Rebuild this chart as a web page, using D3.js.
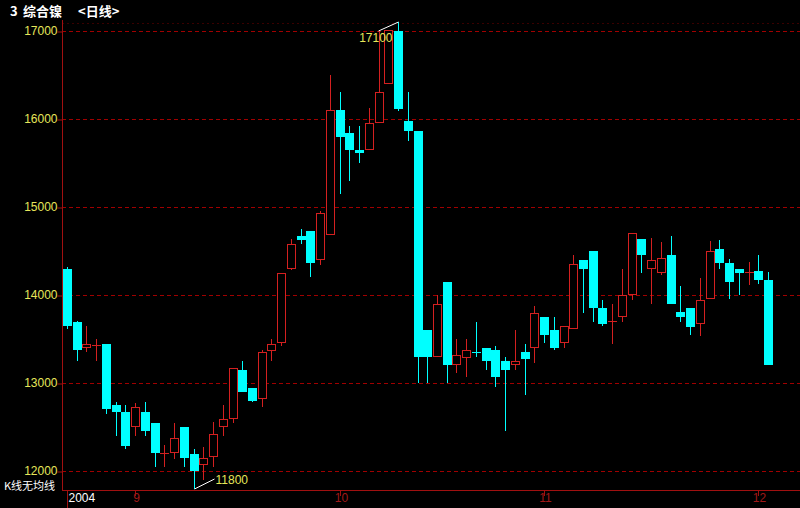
<!DOCTYPE html>
<html><head><meta charset="utf-8">
<script src="https://cdn.jsdelivr.net/npm/d3@7"></script>
<style>html,body{margin:0;padding:0;background:#000;}svg{display:block;}</style>
</head><body>
<svg id="c" width="800" height="508"></svg>
<script>
// OHLC series (daily)
const openV  = [14300,13690,13400,13430,13440,12750,12670,12500,12670,12550,12200,12200,12500,12190,12070,12160,12500,12590,13150,12940,12820,13360,13450,14300,14670,14730,14400,14680,16100,15840,15650,15650,15960,16400,17000,15980,15860,13600,13300,14150,13200,13280,13350,13400,13380,13250,13200,13350,13400,13750,13600,13450,13610,14400,14500,13850,13700,13750,14000,14640,14300,14250,14450,13810,13850,13670,13950,14520,14360,14300,14260,14270,14170];
const highV  = [14320,13700,13650,13500,13440,12780,12750,12770,12780,12550,12300,12550,12500,12250,12270,12560,12750,13170,13250,12940,13380,13500,14250,14640,14750,14730,14950,16500,16310,15920,15920,16130,17010,17010,17100,16310,15860,13600,14000,14150,13500,13500,13690,13400,13420,13290,13600,13440,13880,13750,13750,13650,14460,14400,14500,13940,13900,14300,14700,14640,14650,14600,14670,14100,13850,14190,14610,14620,14410,14300,14380,14460,14260];
const lowV   = [13610,13250,13350,13250,12650,12400,12250,12400,12400,12050,12050,12140,12050,11800,11900,12050,12400,12550,12900,12780,12730,13250,13420,14280,14580,14200,14340,14680,15150,15300,15500,15650,15960,16400,16090,15750,13000,13000,13300,13000,13110,13070,13300,13150,12950,12450,13150,12860,13230,13450,13380,13400,13610,13800,13690,13650,13440,13690,13940,14250,13900,14230,13900,13690,13540,13530,13950,14300,13950,14000,14110,14130,13200];
const closeV = [13650,13380,13440,13431,12700,12670,12280,12730,12450,12200,12201,12370,12150,12000,12150,12420,12590,13170,12900,12800,13350,13440,14250,14580,14630,14360,14930,16100,15800,15650,15610,15960,16310,17010,16110,15860,13300,13300,13900,13200,13320,13380,13349,13250,13070,13150,13250,13270,13800,13550,13400,13650,14350,14300,13850,13670,13701,14000,14700,14460,14400,14420,13900,13750,13640,13940,14500,14360,14150,14250,14261,14170,13200];
const yTicks = [12000,13000,14000,15000,16000,17000];
const monthTickIndex = [0,7,28,49,71];
const monthTickLabels = ["2004","9","10","11","12"];
const titleNum = "3", titleName = "综合镍", titlePeriod = "<日线>";
const noteText = "K线无均线";

const UP = "#d42020", DOWN = "#00ffff", GRID = "#a00000", AXIS = "#a01010", YEL = "#e6e65a";
const svg = d3.select("#c");
const n = openV.length;
const x = d3.scaleLinear().domain([0, n-1]).range([67, 768]);
const y = d3.scaleLinear().domain([12000, 17000]).range([471, 31]);
const left = 62, bottom = 490;

svg.append("rect").attr("width",800).attr("height",508).attr("fill","#000");

svg.append("line").attr("x1",left).attr("x2",800).attr("y1",23.5).attr("y2",23.5)
  .attr("stroke","#3a0000").attr("stroke-dasharray","2,3");

svg.append("g").selectAll("line").data(yTicks).join("line")
  .attr("x1",left).attr("x2",800)
  .attr("y1",d=>Math.round(y(d))+0.5).attr("y2",d=>Math.round(y(d))+0.5)
  .attr("stroke",GRID).attr("stroke-dasharray","4,3");

const ya = svg.append("g").attr("transform",`translate(${left+0.5},0)`)
  .call(d3.axisLeft(y).tickValues(yTicks).tickSize(5).tickSizeOuter(0).tickFormat(d3.format("d")));
ya.select(".domain").remove();
ya.selectAll(".tick line").attr("stroke",AXIS).attr("transform","translate(0,0.5)");
ya.selectAll(".tick text").attr("fill",YEL).attr("font-family","'Liberation Sans',Arial,sans-serif")
  .attr("font-size",12).attr("x",-5).attr("dy","0.32em");
svg.append("line").attr("x1",left+0.5).attr("x2",left+0.5).attr("y1",20).attr("y2",bottom)
  .attr("stroke",AXIS);

svg.append("line").attr("x1",left).attr("x2",800).attr("y1",bottom+0.5).attr("y2",bottom+0.5).attr("stroke",AXIS);
const mt = svg.append("g");
monthTickIndex.forEach((idx,k)=>{
  const xx = Math.round(x(idx))+0.5;
  mt.append("line").attr("x1",xx).attr("x2",xx).attr("y1",bottom).attr("y2",k===0?508:496).attr("stroke",AXIS);
  mt.append("text").attr("x",xx+1).attr("y",502)
    .attr("text-anchor",k===0?"start":"middle")
    .attr("fill",k===0?"#ffffff":"#a01818")
    .attr("font-family","'Liberation Sans',Arial,sans-serif").attr("font-size",12)
    .text(monthTickLabels[k]);
});

const g = svg.append("g");
for (let i=0;i<n;i++){
  const o=openV[i], h=highV[i], l=lowV[i], c=closeV[i];
  const up = c>o;
  const col = up?UP:DOWN;
  const xc = Math.round(x(i));
  const yTop = Math.round(y(Math.max(o,c))), yBot = Math.round(y(Math.min(o,c)));
  const yH = Math.round(y(h)), yL = Math.round(y(l));
  if (yH < yTop) g.append("line").attr("x1",xc+0.5).attr("x2",xc+0.5).attr("y1",yH).attr("y2",yTop).attr("stroke",col);
  if (yL > yBot) g.append("line").attr("x1",xc+0.5).attr("x2",xc+0.5).attr("y1",yBot).attr("y2",yL).attr("stroke",col);
  if (yBot - yTop < 2){
    g.append("rect").attr("x",xc-4).attr("y",yTop).attr("width",9).attr("height",Math.max(1,yBot-yTop)).attr("fill",col);
  } else if (up){
    g.append("rect").attr("x",xc-3.5).attr("y",yTop+0.5).attr("width",8).attr("height",yBot-yTop-1)
      .attr("fill","#000").attr("stroke",col);
  } else {
    g.append("rect").attr("x",xc-4).attr("y",yTop).attr("width",9).attr("height",yBot-yTop).attr("fill",col);
  }
}

const iMax = d3.maxIndex(highV), iMin = d3.minIndex(lowV);
const mx = Math.round(x(iMax))+0.5, my = Math.round(y(highV[iMax]));
svg.append("line").attr("x1",mx).attr("y1",my).attr("x2",mx-20).attr("y2",my+9).attr("stroke","#fff");
svg.append("text").attr("x",mx-6).attr("y",my+20).attr("text-anchor","end").attr("fill",YEL)
  .attr("font-family","'Liberation Sans',Arial,sans-serif").attr("font-size",12).text(highV[iMax]);
const nx = Math.round(x(iMin))+0.5, ny = Math.round(y(lowV[iMin]));
svg.append("line").attr("x1",nx).attr("y1",ny).attr("x2",nx+20).attr("y2",ny-10).attr("stroke","#fff");
svg.append("text").attr("x",nx+21).attr("y",ny-5).attr("fill",YEL)
  .attr("font-family","'Liberation Sans',Arial,sans-serif").attr("font-size",12).text(lowV[iMin]);

const t = svg.append("text").attr("y",16).attr("fill","#fff").attr("font-weight","bold")
  .attr("font-family","'Noto Sans CJK SC',sans-serif").attr("font-size",13);
t.append("tspan").attr("x",10).text(titleNum);
t.append("tspan").attr("x",23).text(titleName);
t.append("tspan").attr("x",78).text(titlePeriod);

svg.append("text").attr("x",4).attr("y",490).attr("fill","#fff")
  .attr("font-family","'Noto Sans CJK SC',sans-serif").attr("font-size",11).text(noteText);
</script>
</body></html>
